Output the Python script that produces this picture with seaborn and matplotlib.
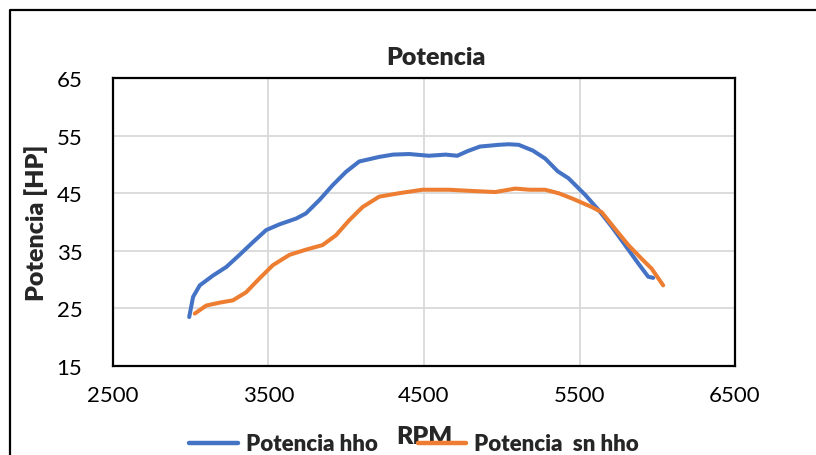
import pandas as pd
import matplotlib.pyplot as plt
import seaborn as sns
from matplotlib.lines import Line2D

# Values
rpm_hho = [2990, 3015, 3058, 3143, 3229, 3314, 3400, 3485, 3571, 3678, 3741, 3827,
           3913, 3998, 4083, 4212, 4300, 4404, 4532, 4639, 4714, 4780, 4860, 4981,
           5045, 5109, 5200, 5280, 5360, 5429, 5537, 5622, 5707, 5793, 5878, 5942, 5974]
pot_hho = [23.5, 27.0, 29.0, 30.7, 32.2, 34.3, 36.5, 38.6, 39.6, 40.6, 41.5, 43.8,
           46.4, 48.7, 50.5, 51.3, 51.7, 51.8, 51.5, 51.7, 51.5, 52.3, 53.1, 53.4,
           53.5, 53.4, 52.4, 51.0, 48.8, 47.6, 44.7, 42.1, 39.2, 36.0, 32.8, 30.5, 30.3]

rpm_sn = [3026, 3100, 3186, 3271, 3356, 3442, 3528, 3635, 3741, 3848, 3934, 4019,
          4105, 4212, 4340, 4490, 4660, 4800, 4958, 5087, 5180, 5279, 5365, 5451,
          5579, 5643, 5729, 5814, 5900, 5964, 6038]
pot_sn = [24.1, 25.5, 26.0, 26.4, 27.8, 30.2, 32.5, 34.3, 35.2, 36.0, 37.7, 40.3,
          42.6, 44.4, 45.0, 45.6, 45.6, 45.4, 45.2, 45.8, 45.6, 45.6, 45.0, 44.1,
          42.6, 41.7, 38.8, 36.0, 33.6, 31.9, 29.0]

series_names = ['Potencia hho', 'Potencia  sn hho']
x_ticks = [2500, 3500, 4500, 5500, 6500]
y_ticks = [15, 25, 35, 45, 55, 65]

df = pd.concat([
    pd.DataFrame({'rpm': rpm_hho, 'pot': pot_hho, 'serie': series_names[0]}),
    pd.DataFrame({'rpm': rpm_sn, 'pot': pot_sn, 'serie': series_names[1]}),
], ignore_index=True)

sns.set_style('white')
plt.rcParams['font.family'] = ['Lato', 'DejaVu Sans']

fig = plt.figure(figsize=(8.16, 4.56), dpi=100)
ax = fig.add_axes([113 / 816, 1 - 367 / 456, 622 / 816, 288 / 456])

sns.lineplot(data=df, x='rpm', y='pot', hue='serie', sort=False,
             palette=['#4472C4', '#ED7D31'], linewidth=2.9, ax=ax, legend=False,
             solid_joinstyle='round', solid_capstyle='round')

ax.set_xlim(2500, 6500)
ax.set_ylim(15, 65)
ax.set_xticks(x_ticks)
ax.set_yticks(y_ticks)
ax.grid(True, color='#D9D9D9', linewidth=1.3)
ax.tick_params(axis='both', length=0, labelsize=16, colors='black')
ax.tick_params(axis='x', pad=14)
ax.tick_params(axis='y', pad=22)
for s in ax.spines.values():
    s.set_visible(True)
    s.set_color('black')
    s.set_linewidth(1.6)

ax.set_xlabel('')
ax.set_ylabel('Potencia [HP]', fontsize=18, fontweight='heavy', labelpad=6)

fig.text(436 / 816, 1 - 58 / 456, 'Potencia', ha='center', va='center',
         fontsize=18, fontweight='heavy')
fig.text(424 / 816, 1 - 437 / 456, 'RPM', ha='center', va='center',
         fontsize=18, fontweight='heavy')

handles = [Line2D([], [], color='#4472C4', linewidth=3.2),
           Line2D([], [], color='#ED7D31', linewidth=3.2)]
fig.legend(handles, series_names, loc='center', bbox_to_anchor=(414 / 816, 1 - 445 / 456),
           ncol=2, frameon=False, prop={'size': 16, 'weight': 'heavy'},
           handlelength=2.2, columnspacing=1.8, handletextpad=0.35)

# outer chart frame (cropped at the right and bottom)
fig.add_artist(Line2D([10 / 816, 10 / 816, 1.0], [0.0, 1 - 11 / 456, 1 - 11 / 456],
                      color='black', linewidth=1.6, transform=fig.transFigure))

fig.savefig('out.png', dpi=100)
